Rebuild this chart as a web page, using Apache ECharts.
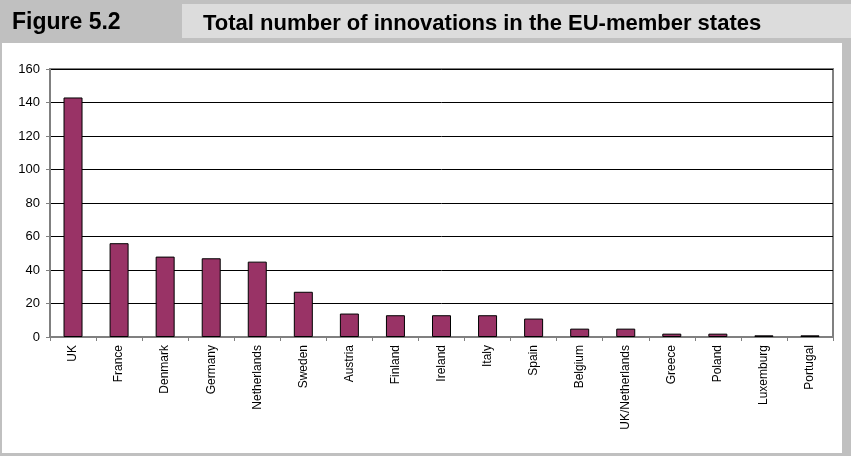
<!DOCTYPE html>
<html>
<head>
<meta charset="utf-8">
<script src="https://cdn.jsdelivr.net/npm/echarts@6/dist/echarts.min.js"></script>
<style>
html,body{margin:0;padding:0;background:#c0c0c0;}
#chart{width:851px;height:456px;}
</style>
</head>
<body>
<div id="chart"></div>
<script>
const figureLabel = "Figure 5.2";
const chartTitle = "Total number of innovations in the EU-member states";
const categories = ["UK","France","Denmark","Germany","Netherlands","Sweden","Austria","Finland","Ireland","Italy","Spain","Belgium","UK/Netherlands","Greece","Poland","Luxemburg","Portugal"];
const innovations = [143,56,48,47,45,27,14,13,13,13,11,5,5,2,2,1,1];
const yTicks = {min:0, max:160, interval:20};

const chart = echarts.init(document.getElementById('chart'));
chart.setOption({
  backgroundColor:'#c0c0c0',
  animation:false,
  graphic:[
    {type:'rect', shape:{x:2,y:43,width:840,height:410}, style:{fill:'#ffffff'}, z:-10},
    {type:'rect', shape:{x:182,y:4,width:669,height:34}, style:{fill:'#dcdcdc'}, z:-10},
    {type:'text', x:12, y:23, style:{text:figureLabel, fill:'#000', verticalAlign:'middle', font:'bold 23px "Liberation Sans", Arial, sans-serif'}},
    {type:'text', x:203, y:24, style:{text:chartTitle, fill:'#000', verticalAlign:'middle', font:'bold 22px "Liberation Sans", Arial, sans-serif'}}
  ],
  grid:{left:50, right:18, top:69, bottom:119, show:true, borderColor:'#808080', borderWidth:2, backgroundColor:'transparent'},
  xAxis:{
    type:'category', data:categories,
    axisLine:{lineStyle:{color:'#808080', width:2}},
    axisTick:{show:true, length:4, lineStyle:{color:'#808080'}},
    axisLabel:{rotate:90, fontSize:12, color:'#000', fontFamily:'"Liberation Sans", Arial, sans-serif', margin:8}
  },
  yAxis:{
    type:'value', min:yTicks.min, max:yTicks.max, interval:yTicks.interval,
    axisLine:{show:true, lineStyle:{color:'#808080', width:2}},
    axisTick:{show:true, length:4, lineStyle:{color:'#808080'}},
    axisLabel:{fontSize:13, color:'#000', fontFamily:'"Liberation Sans", Arial, sans-serif', margin:10},
    splitLine:{show:true, lineStyle:{color:'#000', width:1}}
  },
  series:[{
    type:'bar', data:innovations, barWidth:19,
    itemStyle:{color:'#993366', borderColor:'#000', borderWidth:1}
  }]
});
</script>
</body>
</html>
